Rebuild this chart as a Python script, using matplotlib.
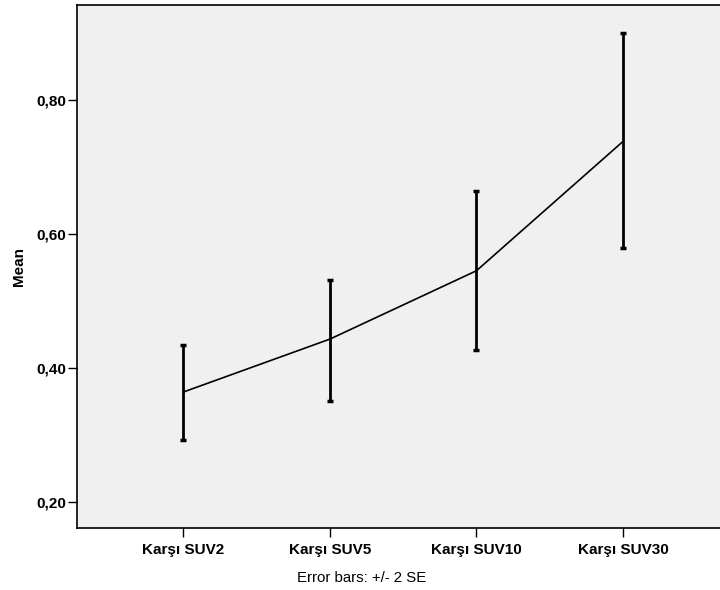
import matplotlib
matplotlib.use('Agg')
import matplotlib.pyplot as plt

categories = ['Karşı SUV2', 'Karşı SUV5', 'Karşı SUV10', 'Karşı SUV30']
means = [0.364, 0.443, 0.545, 0.738]
upper = [0.434, 0.531, 0.664, 0.900]
lower = [0.292, 0.351, 0.427, 0.579]
yticks = [0.20, 0.40, 0.60, 0.80]
ytick_labels = ['0,20', '0,40', '0,60', '0,80']

plt.rcParams['font.family'] = ['Liberation Sans', 'DejaVu Sans']

fig = plt.figure(figsize=(7.2, 5.9), dpi=100)
ax = fig.add_axes([77.3 / 720, 1 - 527.7 / 590, (729 - 77.3) / 720, (527.7 - 4.7) / 590])
ax.set_facecolor('#f0f0f0')

x = list(range(len(categories)))
err_low = [m - l for m, l in zip(means, lower)]
err_high = [u - m for m, u in zip(means, upper)]

ax.plot(x, means, color='black', linewidth=1.2)
ax.errorbar(x, means, yerr=[err_low, err_high], fmt='none', ecolor='black',
            elinewidth=2, capsize=2.5, capthick=2.5)

ax.set_xlim(-0.723, 3.723)
ax.set_ylim(0.1616, 0.942)
ax.set_xticks(x)
ax.set_xticklabels(categories, fontsize=11, fontweight='bold')
ax.set_yticks(yticks)
ax.set_yticklabels(ytick_labels, fontsize=11, fontweight='bold')
ax.tick_params(axis='both', length=6.5, width=1, color='black')
ax.tick_params(axis='x', pad=4.5)
ax.tick_params(axis='y', pad=1.2)

for side in ['top', 'left', 'bottom']:
    ax.spines[side].set_linewidth(1.2)
ax.spines['right'].set_visible(False)

ax.set_ylabel('Mean', fontsize=11, fontweight='bold', labelpad=8)

fig.text(361.5 / 720, 1 - 578 / 590, 'Error bars: +/- 2 SE', fontsize=10.8,
         ha='center', va='center')

fig.savefig('out.png', dpi=100)
plt.close(fig)
